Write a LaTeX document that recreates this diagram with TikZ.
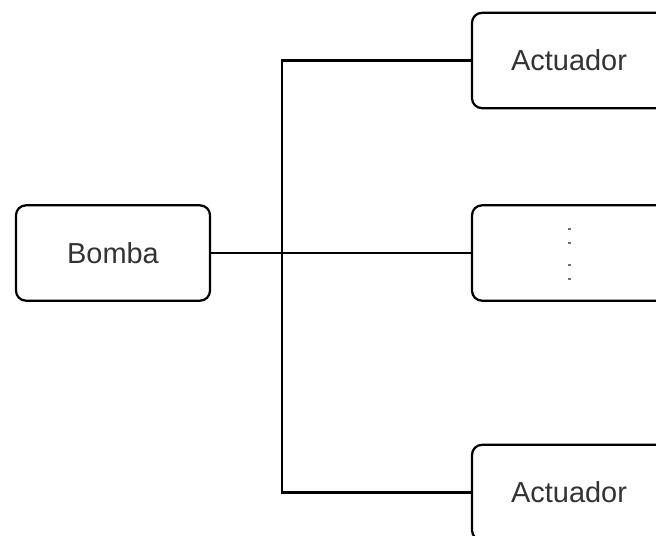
\documentclass[tikz,border=0pt]{standalone}
\usepackage{fontspec}
\setmainfont{Liberation Sans}

\tikzset{
    block/.style={draw, line width=1.9pt, rounded corners=8.5pt,
        minimum width=5.82cm, minimum height=2.86cm,
        font=\fontsize{24.7}{29}\selectfont, text=black!80},
    wire/.style={line width=1.9pt},
}

\begin{document}
\begin{tikzpicture}[x=0.03cm, y=-0.03cm]
    % Frame
    \clip (0,0) rectangle (656,535);

    % variables
    \def\leftX{113}
    \def\rightX{569}
    \def\busX{282}
    \def\midY{253}

    % Blocks
    \node[block] (bomba) at (\leftX, \midY) {Bomba};
    \node[block] (actTop) at (\rightX, 60.5) {Actuador};
    \node[block] (actMid) at (\rightX, \midY) {};
    \node[block] (actBot) at (\rightX, 492.5) {Actuador};

    % Dots in the middle block
    \foreach \dy in {-24, -10, 12, 26}
        \fill[black!55] ([shift={(-1.5,\dy-0.7)}]actMid.center) rectangle +(3,1.4);

    % Bus
    \coordinate (bus) at (\busX, \midY);
    \draw[wire] (bomba.east) -- (actMid.west);
    \draw[wire] (actTop.west) -| (bus) |- (actBot.west);
\end{tikzpicture}
\end{document}
